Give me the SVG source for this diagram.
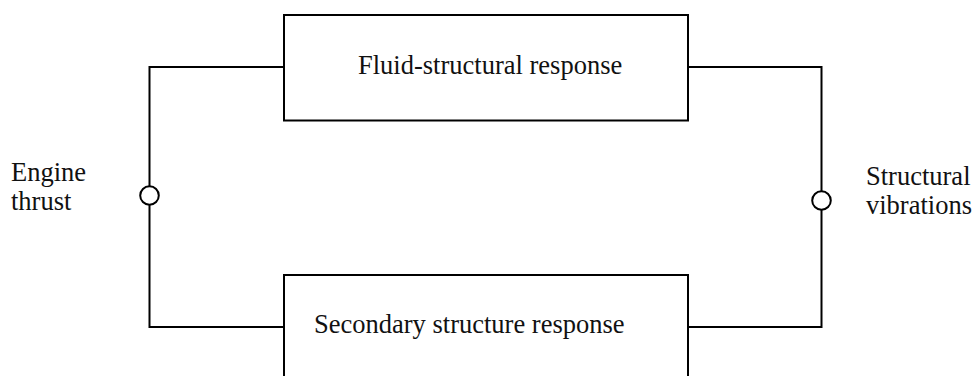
<svg xmlns="http://www.w3.org/2000/svg" width="973" height="376" viewBox="0 0 973 376">
  <style>
    .box { fill: #fff; stroke: #000; stroke-width: 2; }
    .wire { fill: none; stroke: #000; stroke-width: 2; }
    .junction { fill: #fff; stroke: #000; stroke-width: 2; }
    text { font-family: "Liberation Serif", "Times New Roman", serif; font-size: 26.5px; fill: #111; }
  </style>
  <rect width="973" height="376" fill="#fff"/>

  <!-- feedback loop wiring -->
  <g id="connectors">
    <polyline class="wire" points="284,67 149.5,67 149.5,327 284,327"/>
    <polyline class="wire" points="688,67 821.5,67 821.5,327 688,327"/>
    <circle class="junction" cx="149.5" cy="195.5" r="9.3"/>
    <circle class="junction" cx="821.5" cy="200.5" r="9.3"/>
  </g>

  <g id="fluid-structural">
    <rect class="box" x="284" y="15" width="404" height="105.5"/>
    <text x="358" y="74">Fluid-structural response</text>
  </g>

  <g id="secondary-structure">
    <rect class="box" x="284" y="275" width="404" height="110"/>
    <text x="314" y="333">Secondary structure response</text>
  </g>

  <g id="engine-thrust">
    <text x="11" y="181">Engine</text>
    <text x="11" y="210">thrust</text>
  </g>

  <g id="structural-vibrations">
    <text x="866" y="185">Structural</text>
    <text x="866" y="214">vibrations</text>
  </g>
</svg>
